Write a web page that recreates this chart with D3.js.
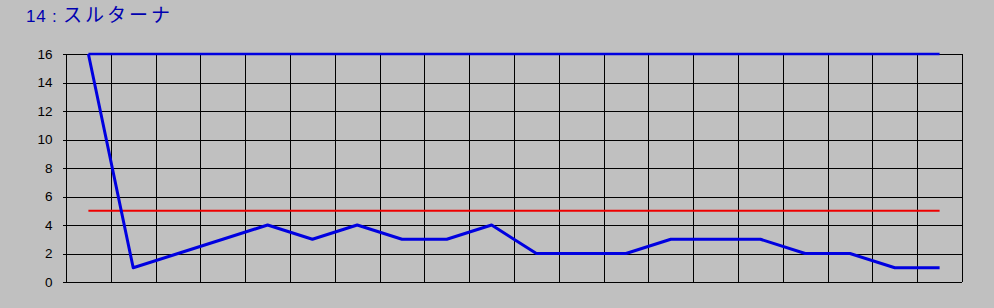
<!DOCTYPE html>
<html>
<head>
<meta charset="utf-8">
<script src="https://cdn.jsdelivr.net/npm/d3@7"></script>
<style>
  body { margin: 0; background: #c0c0c0; }
  svg { display: block; }
</style>
</head>
<body>
<div id="chart"></div>
<script>
// chart data
const horseNo = '14';
const horseName = 'スルターナ';
const races = d3.range(1, 21); // 20 columns
const rankValues = [16, 1, 2, 3, 4, 3, 4, 3, 3, 4, 2, 2, 2, 3, 3, 3, 2, 2, 1, 1];
const topValue = 16;
const refValue = 5;
const yTicks = [0, 2, 4, 6, 8, 10, 12, 14, 16];

const width = 994;
const height = 308;
const margin = { top: 54, right: 32, bottom: 26, left: 66 };

const svg = d3
  .select('#chart')
  .append('svg')
  .attr('width', width)
  .attr('height', height);

// title: number then name
const titleEl = svg
  .append('text')
  .attr('x', 26)
  .attr('y', 22)
  .attr('fill', '#0000b0');
titleEl
  .append('tspan')
  .style('font-family', '"Liberation Sans", Arial, sans-serif')
  .style('font-size', '17px')
  .attr('letter-spacing', 0.8)
  .text(horseNo + ' : ');
titleEl
  .append('tspan')
  .style('font-family', '"Noto Sans CJK JP", sans-serif')
  .style('font-size', '19px')
  .attr('letter-spacing', 3)
  .text(horseName);

const x = d3
  .scaleBand()
  .domain(races)
  .range([margin.left, width - margin.right]);

const y = d3
  .scaleLinear()
  .domain([0, 16])
  .range([height - margin.bottom, margin.top]);

const grid = svg.append('g').attr('shape-rendering', 'crispEdges');

// horizontal grid lines
grid
  .selectAll('.hgrid')
  .data(yTicks)
  .enter()
  .append('line')
  .attr('x1', margin.left)
  .attr('x2', width - margin.right)
  .attr('y1', d => Math.round(y(d)) + 0.5)
  .attr('y2', d => Math.round(y(d)) + 0.5)
  .attr('stroke', '#000');

// vertical grid lines (column borders)
const borders = races.map(d => x(d)).concat([x.range()[1]]);
grid
  .selectAll('.vgrid')
  .data(borders)
  .enter()
  .append('line')
  .attr('x1', d => Math.round(d) + 0.5)
  .attr('x2', d => Math.round(d) + 0.5)
  .attr('y1', y(16))
  .attr('y2', y(0))
  .attr('stroke', '#000');

// y axis
const yAxis = svg
  .append('g')
  .attr('transform', `translate(${margin.left + 0.5},0)`)
  .call(
    d3
      .axisLeft(y)
      .tickValues(yTicks)
      .tickSize(4)
      .tickPadding(10)
  );
yAxis.select('.domain').remove();
yAxis.selectAll('line').attr('stroke', '#000').attr('shape-rendering', 'crispEdges');
yAxis
  .selectAll('text')
  .attr('fill', '#000')
  .style('font-family', '"Liberation Sans", Arial, sans-serif')
  .style('font-size', '13.5px');

const cx = d => x(d) + x.bandwidth() / 2;

// reference line
svg
  .append('path')
  .datum(races)
  .attr('fill', 'none')
  .attr('stroke', '#ee0000')
  .attr('stroke-width', 2)
  .attr('d', d3.line().x(cx).y(() => y(refValue)));

// top line
svg
  .append('path')
  .datum(races)
  .attr('fill', 'none')
  .attr('stroke', '#0000e0')
  .attr('stroke-width', 2.5)
  .attr('d', d3.line().x(cx).y(() => y(topValue)));

// rank line
svg
  .append('path')
  .datum(races)
  .attr('fill', 'none')
  .attr('stroke', '#0000e0')
  .attr('stroke-width', 3)
  .attr('stroke-linejoin', 'round')
  .attr('d', d3.line().x(cx).y((d, i) => y(rankValues[i])));
</script>
</body>
</html>
